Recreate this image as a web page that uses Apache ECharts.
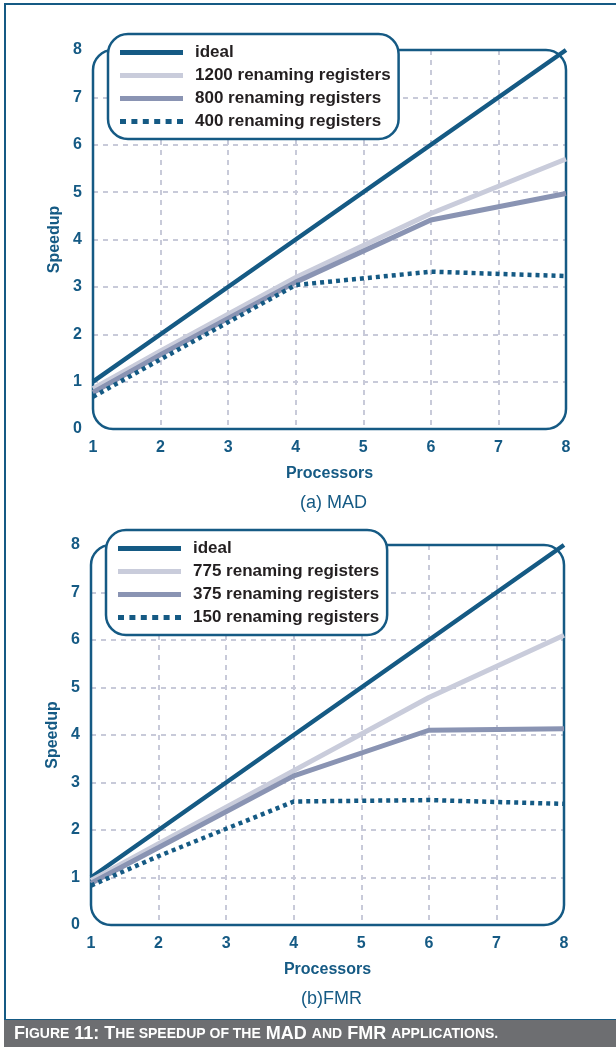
<!DOCTYPE html>
<html>
<head>
<meta charset="utf-8">
<script src="https://cdn.jsdelivr.net/npm/echarts@6/dist/echarts.min.js"></script>
<style>
html,body{margin:0;padding:0;background:#fff;}
#chart{width:616px;height:1047px;}
</style>
</head>
<body>
<div id="chart"></div>
<script>
// ---- data ----
const processors = [1, 2, 4, 6, 8];
const xTicks = [1, 2, 3, 4, 5, 6, 7, 8];
const yTicks = [0, 1, 2, 3, 4, 5, 6, 7, 8];

const madNames = ['ideal', '1200 renaming registers', '800 renaming registers', '400 renaming registers'];
const madIdeal = [1, 2, 4, 6, 8];
const mad1200 = [0.85, 1.65, 3.2, 4.55, 5.7];
const mad800 = [0.77, 1.57, 3.1, 4.41, 4.97];
const mad400 = [0.68, 1.47, 3.04, 3.32, 3.23];

const fmrNames = ['ideal', '775 renaming registers', '375 renaming registers', '150 renaming registers'];
const fmrIdeal = [1, 2, 4, 6, 8];
const fmr775 = [0.94, 1.71, 3.25, 4.79, 6.1];
const fmr375 = [0.88, 1.63, 3.14, 4.1, 4.13];
const fmr150 = [0.83, 1.45, 2.6, 2.63, 2.55];

const subTitles = ['(a) MAD', '(b)FMR'];
const xName = 'Processors';
const yName = 'Speedup';

// ---- styles ----
const BLUE = '#155a84';
const LIGHT = '#c9ccdb';
const MID = '#8a94b3';
const GRIDC = '#c8cad9';
const FONT = '"Liberation Sans", Arial, sans-serif';

const G = [
  {left: 93, top: 50, width: 473, height: 379},
  {left: 91, top: 545, width: 473, height: 380}
];
const LEG = [
  {left: 108, top: 34},
  {left: 106, top: 530}
];

const DOTS = 'path://M0,0h6v5h-6zM11.4,0h6v5h-6zM22.8,0h6v5h-6zM34.2,0h6v5h-6zM45.6,0h6v5h-6zM57,0h6v5h-6z';
const styles = [
  {color: BLUE, width: 4.5, type: 'solid', icon: 'rect'},
  {color: LIGHT, width: 5, type: 'solid', icon: 'rect'},
  {color: MID, width: 5, type: 'solid', icon: 'rect'},
  {color: BLUE, width: 4.5, type: [4, 4], icon: DOTS}
];

function pairs(vals) { return processors.map((p, i) => [p, vals[i]]); }

const allSeries = [];
[[madIdeal, mad1200, mad800, mad400], [fmrIdeal, fmr775, fmr375, fmr150]].forEach((set, gi) => {
  const names = gi === 0 ? madNames : fmrNames;
  set.forEach((vals, si) => {
    allSeries.push({
      type: 'line',
      name: names[si],
      xAxisIndex: gi, yAxisIndex: gi,
      data: pairs(vals),
      symbol: 'none',
      z: 3,
      lineStyle: {color: styles[si].color, width: styles[si].width, type: styles[si].type, cap: 'butt'},
      itemStyle: {color: styles[si].color},
      emphasis: {disabled: true},
      animation: false
    });
  });
});

function xAxis(gi) {
  return {
    type: 'value', gridIndex: gi, min: xTicks[0], max: xTicks[xTicks.length - 1], interval: 1,
    axisLine: {show: false}, axisTick: {show: false},
    axisLabel: {color: BLUE, fontFamily: FONT, fontWeight: 'bold', fontSize: 16, margin: 11},
    splitLine: {show: true, showMinLine: false, showMaxLine: false, lineStyle: {color: GRIDC, width: 2, type: [5, 5]}},
    name: xName, nameLocation: 'middle', nameGap: 37,
    nameTextStyle: {color: BLUE, fontFamily: FONT, fontWeight: 'bold', fontSize: 16}
  };
}
function yAxis(gi) {
  return {
    type: 'value', gridIndex: gi, min: yTicks[0], max: yTicks[yTicks.length - 1], interval: 1,
    axisLine: {show: false}, axisTick: {show: false},
    axisLabel: {color: BLUE, fontFamily: FONT, fontWeight: 'bold', fontSize: 16, margin: 11},
    splitLine: {show: true, showMinLine: false, showMaxLine: false, lineStyle: {color: GRIDC, width: 2, type: [5, 5]}},
    name: yName, nameLocation: 'middle', nameGap: 25, nameRotate: 90,
    nameTextStyle: {color: BLUE, fontFamily: FONT, fontWeight: 'bold', fontSize: 16}
  };
}
function legend(gi) {
  const names = gi === 0 ? madNames : fmrNames;
  return {
    show: true, orient: 'vertical', left: LEG[gi].left, top: LEG[gi].top,
    data: names.map((n, i) => ({name: n, icon: styles[i].icon, itemStyle: {color: styles[i].color, borderWidth: 0}})),
    itemWidth: 63, itemHeight: 5, itemGap: 6,
    symbolKeepAspect: false,
    padding: [10, 8, 9, 12],
    backgroundColor: '#fff', borderColor: BLUE, borderWidth: 2.5, borderRadius: 20,
    selectedMode: false,
    itemStyle: {borderWidth: 0},
    textStyle: {color: '#231f20', fontFamily: FONT, fontWeight: 'bold', fontSize: 17, padding: [0, 0, 0, 7]},
    z: 10
  };
}

const graphics = [
  {type: 'rect', shape: {x: 5, y: 4, width: 800, height: 1016}, style: {fill: null, stroke: BLUE, lineWidth: 2}, z: 0, silent: true},
  {type: 'rect', shape: {x: 4, y: 1020, width: 620, height: 27}, style: {fill: '#6d6e71'}, z: 1, silent: true},
  {type: 'text', x: 14, y: 1034, z: 2, silent: true,
    style: {
      text: '{b|F}{s|IGURE} {b|11: T}{s|HE SPEEDUP OF THE} {b|MAD} {s|AND} {b|FMR} {s|APPLICATIONS.}',
      verticalAlign: 'middle',
      rich: {
        b: {fill: '#fff', fontFamily: FONT, fontWeight: 'bold', fontSize: 18},
        s: {fill: '#fff', fontFamily: FONT, fontWeight: 'bold', fontSize: 14}
      },
      fill: '#fff', fontFamily: FONT, fontWeight: 'bold', fontSize: 18
    }}
];
G.forEach((g, gi) => {
  graphics.push({type: 'rect', shape: {x: g.left, y: g.top, width: g.width, height: g.height, r: 20},
    style: {fill: null, stroke: BLUE, lineWidth: 2.5}, z: 1, silent: true});
  graphics.push({type: 'text', x: g.left + g.width / 2 + 4, y: g.top + g.height + 74, z: 2, silent: true,
    style: {text: subTitles[gi], fill: BLUE, fontFamily: FONT, fontSize: 18, align: 'center', verticalAlign: 'middle'}});
});

const chart = echarts.init(document.getElementById('chart'), null, {renderer: 'canvas'});
chart.setOption({
  animation: false,
  backgroundColor: '#fff',
  grid: G.map(g => Object.assign({containLabel: false}, g)),
  xAxis: [xAxis(0), xAxis(1)],
  yAxis: [yAxis(0), yAxis(1)],
  legend: [legend(0), legend(1)],
  series: allSeries,
  graphic: graphics
});
</script>
</body>
</html>
